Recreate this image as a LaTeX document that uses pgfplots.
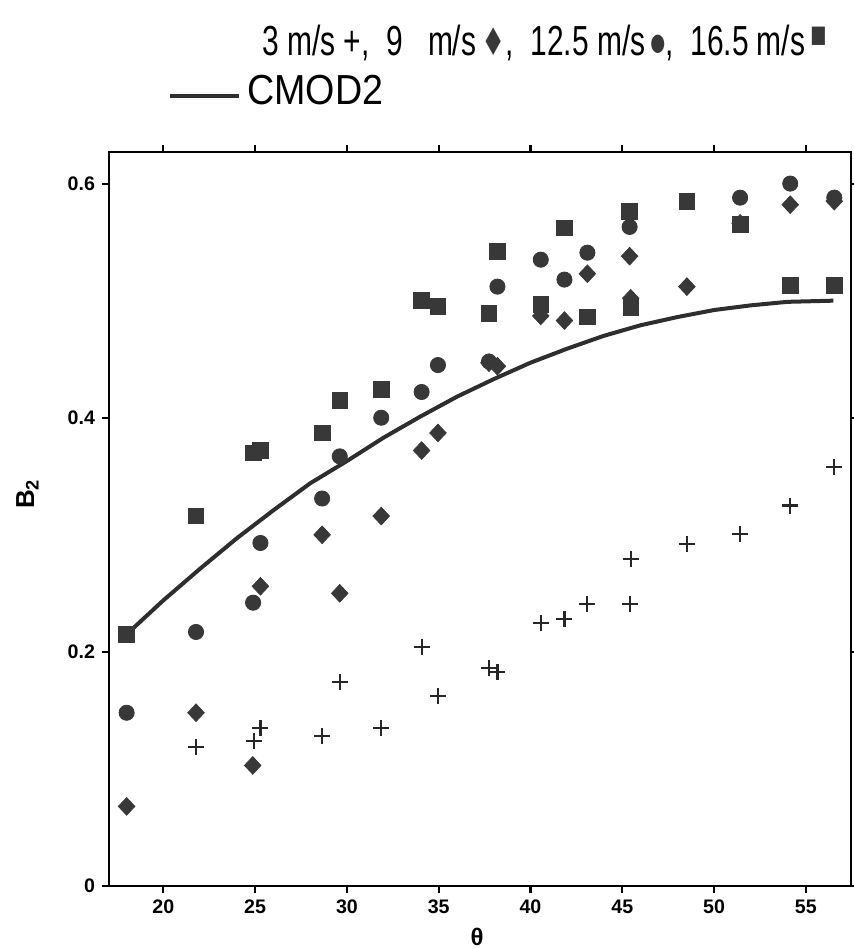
\documentclass[border=0pt]{standalone}
\usepackage{fontspec}
\setmainfont{Liberation Sans}
\newfontfamily\symfont{DejaVu Sans}
\newfontfamily\legfont{Liberation Sans}
\usepackage{graphicx}
\usepackage{pgfplots}
\pgfplotsset{compat=1.18}
\definecolor{mk}{gray}{0.22}
\definecolor{ln}{gray}{0.18}
\begin{document}
\begin{tikzpicture}
\path[use as bounding box] (-54.5pt,-31.5pt) rectangle (372.5pt,443pt);
\begin{axis}[
  scale only axis, width=371pt, height=367pt,
  xmin=17.04, xmax=57.46, ymin=0, ymax=0.627,
  xtick={20,25,30,35,40,45,50,55},
  ytick={0,0.2,0.4,0.6},
  tick align=outside, major tick length=3.5pt,
  axis line style={line width=1.4pt},
  tick style={line width=1.1pt, black},
  ticklabel style={font=\bfseries\fontsize{9.8}{10}\selectfont},
  /pgf/number format/assume math mode=true,
  xlabel={\bfseries\fontsize{12}{12}\selectfont θ},
  ylabel={\bfseries\fontsize{13}{13}\selectfont B\textsubscript{2}},
  xlabel style={at={(axis description cs:0.496,-0.0695)}, anchor=center},
  ylabel style={at={(axis description cs:-0.11,0.534)}, anchor=center},
  clip=false,
]
\addplot[ln, line width=2pt, no markers] coordinates {
(18,0.215) (20,0.244) (22,0.271) (24,0.297) (26,0.321) (28,0.344) (30,0.363)
(32,0.383) (34,0.401) (36,0.418) (38,0.433) (40,0.447) (42,0.459) (44,0.470)
(46,0.479) (48,0.486) (50,0.492) (52,0.496) (54,0.499) (56.5,0.500)};
% 3 m/s
\addplot[only marks, mark=+, mark size=4pt, line width=1.1pt, black!85] coordinates {
(21.78,0.119) (24.93,0.124) (25.29,0.135) (28.65,0.128) (29.61,0.174) (31.87,0.135)
(34.07,0.2045) (34.96,0.162) (37.74,0.186) (38.2,0.1826) (40.56,0.2245) (41.85,0.228)
(43.1,0.241) (45.4,0.241) (45.46,0.279) (48.52,0.292) (51.42,0.3005) (54.15,0.325) (56.55,0.358)};
% 9 m/s
\addplot[only marks, mark=diamond*, mark size=4.4pt, mk, mark options={fill=mk, xscale=1.25}] coordinates {
(18.0,0.068) (21.78,0.148) (24.87,0.103) (25.29,0.256) (28.65,0.300) (29.61,0.250)
(31.87,0.316) (34.07,0.372) (34.96,0.387) (37.74,0.447) (38.2,0.444) (40.56,0.487)
(41.85,0.483) (43.1,0.523) (45.4,0.538) (45.46,0.502) (48.52,0.512) (51.42,0.566)
(54.15,0.582) (56.55,0.585)};
% 12.5 m/s
\addplot[only marks, mark=*, mark size=3.8pt, mk, mark options={fill=mk}] coordinates {
(18.0,0.148) (21.78,0.217) (24.89,0.242) (25.29,0.293) (28.65,0.331) (29.61,0.367)
(31.87,0.400) (34.07,0.422) (34.96,0.445) (37.74,0.448) (38.2,0.512) (40.56,0.535)
(41.85,0.518) (43.1,0.541) (45.4,0.563) (51.42,0.588) (54.15,0.600) (56.55,0.588)};
% 16.5 m/s
\addplot[only marks, mark=square*, mark size=3.9pt, mk, mark options={fill=mk}] coordinates {
(18.0,0.215) (21.78,0.316) (24.89,0.370) (25.29,0.372) (28.65,0.387) (29.61,0.415)
(31.87,0.424) (34.07,0.500) (34.96,0.495) (37.74,0.489) (38.2,0.542) (40.56,0.497)
(41.85,0.562) (43.1,0.486) (45.4,0.576) (45.46,0.494) (48.52,0.585) (51.42,0.565)
(54.15,0.513) (56.55,0.513)};
\end{axis}
\node[anchor=west, inner sep=0pt] at (76.5pt,421.5pt) {\resizebox{282pt}{\height}{\legfont\fontsize{21}{21}\selectfont 3 m/s +,\ \ 9\ \ \ m/s\,{\symfont\color{mk}\fontsize{19}{19}\selectfont ♦},\ \ 12.5 m/s\,\raisebox{0.12em}{\symfont\color{mk}\fontsize{12}{12}\selectfont ●},\ \ 16.5 m/s\,\raisebox{0.32em}{\symfont\color{mk}\fontsize{12}{12}\selectfont ■}}};
\node[anchor=west, inner sep=0pt] at (30.5pt,398pt) {\textcolor{ln}{\rule[0.3em]{34.5pt}{2pt}}\hspace{4pt}\resizebox{68pt}{\height}{\legfont\fontsize{21}{21}\selectfont CMOD2}};
\end{tikzpicture}
\end{document}
